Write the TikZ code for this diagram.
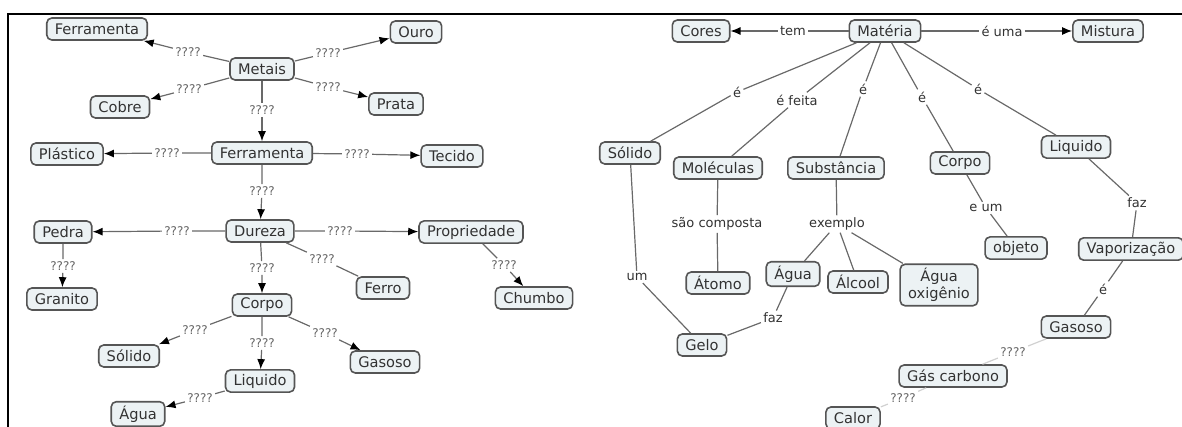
\documentclass[tikz,border=0pt]{standalone}
\usepackage{fontspec}
\setmainfont{DejaVu Sans}
\usetikzlibrary{arrows.meta}
\definecolor{boxfill}{RGB}{236,242,244}
\definecolor{boxline}{RGB}{85,85,85}
\definecolor{linkline}{RGB}{105,105,105}
\definecolor{txt}{RGB}{50,50,50}
\begin{document}
\begin{tikzpicture}[
  x=0.5pt, y=-0.5pt,
  concept/.style={draw=boxline, fill=boxfill, rounded corners=2.5pt, line width=0.8pt,
    inner xsep=4pt, inner ysep=2pt, minimum height=11pt, text=txt,
    font=\fontsize{7.3}{8.5}\selectfont},
  phrase/.style={fill=white, inner sep=1pt, text=txt, font=\fontsize{6.5}{7.5}\selectfont},
  quest/.style={phrase, font=\fontsize{6}{7}\selectfont, text=black!60},
  conn/.style={draw=linkline, line width=0.6pt},
  arr/.style={conn, -{Latex[length=5pt,width=4pt,color=black]}},
  faint/.style={conn, draw=black!18}
]
  \clip (0,0) rectangle (1182,427);
  % Frame
  \draw[line width=1pt] (8,427) -- (8,14) -- (1182,14);

  % Left map: concepts
  \node[concept] (fertop) at (97,29) {Ferramenta};
  \node[concept] (metais) at (262,69) {Metais};
  \node[concept] (ouro) at (416,32) {Ouro};
  \node[concept] (cobre) at (120,107) {Cobre};
  \node[concept] (prata) at (396,104) {Prata};
  \node[concept] (ferra) at (262,153) {Ferramenta};
  \node[concept] (plastico) at (67,154) {Plástico};
  \node[concept] (tecido) at (452,156) {Tecido};
  \node[concept] (dureza) at (260,231) {Dureza};
  \node[concept] (pedra) at (63,232) {Pedra};
  \node[concept] (propr) at (471,232) {Propriedade};
  \node[concept] (granito) at (62,299) {Granito};
  \node[concept] (ferro) at (383,288) {Ferro};
  \node[concept] (chumbo) at (534,298) {Chumbo};
  \node[concept] (corpoL) at (262,305) {Corpo};
  \node[concept] (solidoL) at (129,356) {Sólido};
  \node[concept] (gasosoL) at (385,362) {Gasoso};
  \node[concept] (liquidoL) at (260,381) {Liquido};
  \node[concept] (aguaL) at (138,414) {Água};

  % Left map: linking phrases
  \node[quest] (q1) at (188,52) {????};
  \node[quest] (q2) at (328,53) {????};
  \node[quest] (q3) at (189,89) {????};
  \node[quest] (q4) at (328,87) {????};
  \node[quest] (q5) at (262,110) {????};
  \node[quest] (q6) at (167,153) {????};
  \node[quest] (q7) at (357,154) {????};
  \node[quest] (q8) at (262,191) {????};
  \node[quest] (q9) at (177,231) {????};
  \node[quest] (q10) at (340,231) {????};
  \node[quest] (q11) at (322,259) {????};
  \node[quest] (q12) at (262,268) {????};
  \node[quest] (q13) at (63,266) {????};
  \node[quest] (q14) at (504,265) {????};
  \node[quest] (q15) at (195,330) {????};
  \node[quest] (q16) at (262,343) {????};
  \node[quest] (q17) at (325,333) {????};
  \node[quest] (q18) at (200,398) {????};

  % Left map: connectors
  \draw[arr] (metais) -- (q1) -- (fertop);
  \draw[arr] (metais) -- (q2) -- (ouro);
  \draw[arr] (metais) -- (q3) -- (cobre);
  \draw[arr] (metais) -- (q4) -- (prata);
  \draw[arr] (metais) -- (q5) -- (ferra);
  \draw[arr] (ferra) -- (q6) -- (plastico);
  \draw[arr] (ferra) -- (q7) -- (tecido);
  \draw[arr] (ferra) -- (q8) -- (dureza);
  \draw[arr] (dureza) -- (q9) -- (pedra);
  \draw[arr] (dureza) -- (q10) -- (propr);
  \draw[conn] (dureza) -- (q11) -- (ferro);
  \draw[arr] (dureza) -- (q12) -- (corpoL);
  \draw[arr] (pedra) -- (q13) -- (granito);
  \draw[arr] (propr) -- (q14) -- (chumbo);
  \draw[arr] (corpoL) -- (q15) -- (solidoL);
  \draw[arr] (corpoL) -- (q16) -- (liquidoL);
  \draw[arr] (corpoL) -- (q17) -- (gasosoL);
  \draw[arr] (liquidoL) -- (q18) -- (aguaL);

  % Right map: concepts
  \node[concept] (cores) at (701,31) {Cores};
  \node[concept] (materia) at (885,31) {Matéria};
  \node[concept] (mistura) at (1108,31) {Mistura};
  \node[concept] (solidoR) at (630,153) {Sólido};
  \node[concept] (molec) at (718,168) {Moléculas};
  \node[concept] (subst) at (836,168) {Substância};
  \node[concept] (corpoR) at (960,163) {Corpo};
  \node[concept] (liquidoR) at (1076,147) {Liquido};
  \node[concept] (atomo) at (718,283) {Átomo};
  \node[concept] (aguaR) at (793,274) {Água};
  \node[concept] (alcool) at (858,282) {Álcool};
  \node[concept, align=center] (aguaox) at (939,285) {Água\\oxigênio};
  \node[concept] (gelo) at (702,345) {Gelo};
  \node[concept] (objeto) at (1016,248) {objeto};
  \node[concept] (vapor) at (1131,249) {Vaporização};
  \node[concept] (gasosoR) at (1076,327) {Gasoso};
  \node[concept] (gascarb) at (953,376) {Gás carbono};
  \node[concept] (calor) at (853,418) {Calor};

  % Right map: linking phrases
  \node[phrase] (tem) at (793,31) {tem};
  \node[phrase] (euma) at (1002,31) {é uma};
  \node[phrase] (e1) at (737,92) {é};
  \node[phrase] (efeita) at (797,100) {é feita};
  \node[phrase] (e2) at (863,89) {é};
  \node[phrase] (e3) at (922,97) {é};
  \node[phrase] (e4) at (978,89) {é};
  \node[phrase] (comp) at (717,224) {são composta};
  \node[phrase] (exemplo) at (837,224) {exemplo};
  \node[phrase] (um) at (637,277) {um};
  \node[phrase] (faz1) at (773,318) {faz};
  \node[phrase] (eum) at (986,208) {e um};
  \node[phrase] (faz2) at (1137,203) {faz};
  \node[phrase] (e5) at (1103,289) {é};
  \node[quest] (q19) at (1013,352) {????};
  \node[quest] (q20) at (903,398) {????};

  % Right map: connectors
  \draw[arr] (materia) -- (tem) -- (cores);
  \draw[arr] (materia) -- (euma) -- (mistura);
  \draw[conn] (materia) -- (e1) -- (solidoR);
  \draw[conn] (materia) -- (efeita) -- (molec);
  \draw[conn] (materia) -- (e2) -- (subst);
  \draw[conn] (materia) -- (e3) -- (corpoR);
  \draw[conn] (materia) -- (e4) -- (liquidoR);
  \draw[conn] (molec) -- (comp) -- (atomo);
  \draw[conn] (subst) -- (exemplo);
  \draw[conn] (exemplo) -- (aguaR);
  \draw[conn] (exemplo) -- (alcool);
  \draw[conn] (exemplo) -- (aguaox);
  \draw[conn] (solidoR) -- (um) -- (gelo);
  \draw[conn] (aguaR) -- (faz1) -- (gelo);
  \draw[conn] (corpoR) -- (eum) -- (objeto);
  \draw[conn] (liquidoR) -- (faz2) -- (vapor);
  \draw[conn] (vapor) -- (e5) -- (gasosoR);
  \draw[faint] (gasosoR) -- (q19) -- (gascarb);
  \draw[faint] (gascarb) -- (q20) -- (calor);
\end{tikzpicture}
\end{document}
